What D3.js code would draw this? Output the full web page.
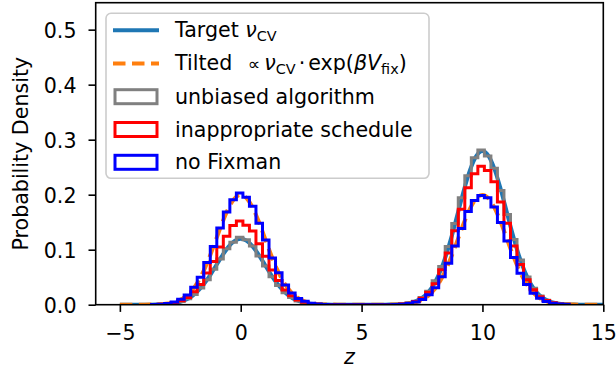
<!DOCTYPE html>
<html>
<head>
<meta charset="utf-8">
<script src="https://cdn.jsdelivr.net/npm/d3@7"></script>
<style>
  body { margin: 0; background: #fff; }
  svg { display: block; font-family: "DejaVu Sans", sans-serif; }
</style>
</head>
<body>
<svg id="chart" width="616" height="375"></svg>
<script>
// smooth curves, sampled every 0.25 from z = -5 to 15
const curveStart = -5;
const curveStep = 0.25;
const targetCurve = [
  0, 0, 0, 0, 0, 0.0001, 0.0003, 0.0006, 0.0013, 0.0027, 0.0053, 0.0095, 0.0162, 0.0259, 0.0389, 0.0548,
  0.0726, 0.0903, 0.1056, 0.1160, 0.1197, 0.1160, 0.1056, 0.0903, 0.0726, 0.0548, 0.0389, 0.0259, 0.0162,
  0.0095, 0.0053, 0.0027, 0.0013, 0.0006, 0.0003, 0.0001, 0, 0, 0, 0, 0, 0, 0, 0,
  0.0001, 0.0003, 0.0006, 0.0014, 0.0031, 0.0064, 0.0123, 0.0222, 0.0378, 0.0604, 0.0907, 0.1278, 0.1694,
  0.2108, 0.2465, 0.2707, 0.2792, 0.2707, 0.2465, 0.2108, 0.1694, 0.1278, 0.0907, 0.0604, 0.0378, 0.0222,
  0.0123, 0.0064, 0.0031, 0.0014, 0.0006, 0.0003, 0.0001, 0, 0, 0, 0
];
const tiltedCurve = [
  0, 0, 0, 0, 0.0001, 0.0002, 0.0004, 0.0010, 0.0022, 0.0045, 0.0088, 0.0159, 0.0270, 0.0431, 0.0648, 0.0913,
  0.1210, 0.1506, 0.1760, 0.1934, 0.1995, 0.1934, 0.1760, 0.1506, 0.1210, 0.0913, 0.0648, 0.0431, 0.0270,
  0.0159, 0.0088, 0.0045, 0.0022, 0.0010, 0.0004, 0.0002, 0.0001, 0, 0, 0, 0, 0, 0, 0,
  0.0001, 0.0002, 0.0004, 0.0010, 0.0022, 0.0045, 0.0088, 0.0159, 0.0270, 0.0431, 0.0648, 0.0913, 0.1210,
  0.1506, 0.1760, 0.1934, 0.1995, 0.1934, 0.1760, 0.1506, 0.1210, 0.0913, 0.0648, 0.0431, 0.0270, 0.0159,
  0.0088, 0.0045, 0.0022, 0.0010, 0.0004, 0.0002, 0.0001, 0, 0, 0, 0
];

// histograms: bins of width 0.27 starting at z = -3.69
const binStart = -3.69;
const binWidth = 0.27;
const gapZeros = [0, 0, 0, 0, 0, 0, 0, 0, 0, 0];
const unbiasedHist = [
  0.0002, 0.0005, 0.0014, 0.0030, 0.0057, 0.0110, 0.0186, 0.0305, 0.0452, 0.0645, 0.0830, 0.1015, 0.1135,
  0.1225, 0.1180, 0.1065, 0.0885, 0.0705, 0.0510, 0.0350, 0.0218, 0.0130, 0.0069, 0.0036, 0.0016, 0.0007, 0.0003,
  ...gapZeros,
  0.0005, 0.0014, 0.0031, 0.0063, 0.0133, 0.0243, 0.0435, 0.0695, 0.1060, 0.1478, 0.1945, 0.2345, 0.2670,
  0.2810, 0.2705, 0.2480, 0.2075, 0.1640, 0.1185, 0.0812, 0.0505, 0.0300, 0.0160, 0.0083, 0.0038, 0.0017, 0.0007
];
const scheduleHist = [
  0.0003, 0.0008, 0.0017, 0.0036, 0.0072, 0.0130, 0.0236, 0.0368, 0.0575, 0.0785, 0.1050, 0.1245, 0.1440,
  0.1520, 0.1445, 0.1340, 0.1110, 0.0880, 0.0632, 0.0440, 0.0268, 0.0163, 0.0085, 0.0045, 0.0020, 0.0009, 0.0004,
  ...gapZeros,
  0.0004, 0.0012, 0.0025, 0.0060, 0.0115, 0.0226, 0.0382, 0.0635, 0.0940, 0.1345, 0.1735, 0.2125, 0.2380,
  0.2515, 0.2440, 0.2235, 0.1865, 0.1480, 0.1065, 0.0730, 0.0452, 0.0272, 0.0143, 0.0076, 0.0034, 0.0015, 0.0006
];
const noFixmanHist = [
  0.0004, 0.0010, 0.0023, 0.0047, 0.0100, 0.0178, 0.0318, 0.0500, 0.0765, 0.1060, 0.1395, 0.1685, 0.1910,
  0.2030, 0.1955, 0.1790, 0.1480, 0.1175, 0.0850, 0.0580, 0.0360, 0.0213, 0.0113, 0.0061, 0.0026, 0.0012, 0.0005,
  ...gapZeros,
  0.0005, 0.0009, 0.0022, 0.0049, 0.0095, 0.0182, 0.0310, 0.0508, 0.0752, 0.1068, 0.1385, 0.1695, 0.1895,
  0.1985, 0.1945, 0.1775, 0.1495, 0.1160, 0.0860, 0.0570, 0.0368, 0.0208, 0.0118, 0.0058, 0.0028, 0.0011, 0.0005
];

const xTicks = [-5, 0, 5, 10, 15];
const yTicks = [0, 0.1, 0.2, 0.3, 0.4, 0.5];

const svg = d3.select("#chart");
const fontSize = 20.6;
const plot = { left: 95.7, right: 603.3, top: 2.7, bottom: 304.7 };

const x = d3.scaleLinear().domain([-6, 15]).range([plot.left, plot.right]);
const y = d3.scaleLinear().domain([0, 0.549]).range([plot.bottom, plot.top]);

const clip = svg.append("clipPath").attr("id", "clip")
  .append("rect")
  .attr("x", plot.left).attr("y", plot.top)
  .attr("width", plot.right - plot.left).attr("height", plot.bottom - plot.top);

const chart = svg.append("g").attr("clip-path", "url(#clip)");

const line = d3.line()
  .x((d, i) => x(curveStart + i * curveStep))
  .y((d) => y(d))
  .curve(d3.curveMonotoneX);

chart.append("path")
  .attr("d", line(targetCurve))
  .attr("fill", "none")
  .attr("stroke", "#1f77b4")
  .attr("stroke-width", 4);

chart.append("path")
  .attr("d", line(tiltedCurve))
  .attr("fill", "none")
  .attr("stroke", "#ff7f0e")
  .attr("stroke-width", 4)
  .attr("stroke-dasharray", "12.5,6.5");

function stepPath(values) {
  const pts = [[binStart, 0]];
  values.forEach((v, i) => {
    pts.push([binStart + i * binWidth, v]);
    pts.push([binStart + (i + 1) * binWidth, v]);
  });
  pts.push([binStart + values.length * binWidth, 0]);
  return d3.line().x((p) => x(p[0])).y((p) => y(p[1]))(pts);
}

const hists = [
  { values: unbiasedHist, color: "#808080" },
  { values: scheduleHist, color: "#ff0000" },
  { values: noFixmanHist, color: "#0000ff" }
];

hists.forEach((h) => {
  chart.append("path")
    .attr("d", stepPath(h.values))
    .attr("fill", "none")
    .attr("stroke", h.color)
    .attr("stroke-width", 3)
    .attr("stroke-linejoin", "miter");
});

// axes
const xAxis = svg.append("g")
  .attr("transform", `translate(0, ${plot.bottom})`)
  .call(d3.axisBottom(x).tickValues(xTicks).tickSize(7.2));
xAxis.select(".domain").remove();
xAxis.selectAll("line").attr("stroke-width", 1.6);
xAxis.selectAll("text")
  .attr("y", 35.3).attr("dy", null)
  .attr("font-size", fontSize).attr("font-family", "DejaVu Sans").attr("fill", "#000");

const yAxis = svg.append("g")
  .attr("transform", `translate(${plot.left}, 0)`)
  .call(d3.axisLeft(y).tickValues(yTicks).tickSize(7.2).tickFormat(d3.format(".1f")));
yAxis.select(".domain").remove();
yAxis.selectAll("line").attr("stroke-width", 1.6);
yAxis.selectAll("text")
  .attr("x", -19.2).attr("dy", "0.36em")
  .attr("font-size", fontSize).attr("font-family", "DejaVu Sans").attr("fill", "#000");

svg.append("rect")
  .attr("x", plot.left).attr("y", plot.top)
  .attr("width", plot.right - plot.left).attr("height", plot.bottom - plot.top)
  .attr("fill", "none").attr("stroke", "#000").attr("stroke-width", 1.6);

svg.append("text")
  .attr("transform", `translate(28, ${(plot.top + plot.bottom) / 2}) rotate(-90)`)
  .attr("text-anchor", "middle")
  .attr("font-size", fontSize)
  .text("Probability Density");

svg.append("text")
  .attr("x", (plot.left + plot.right) / 2)
  .attr("y", 363.5)
  .attr("text-anchor", "middle")
  .attr("font-size", fontSize)
  .attr("font-style", "italic")
  .text("z");

// legend
const legend = svg.append("g").attr("font-size", fontSize);
legend.append("rect")
  .attr("x", 106).attr("y", 13.3)
  .attr("width", 323).attr("height", 165)
  .attr("rx", 5)
  .attr("fill", "#fff").attr("fill-opacity", 0.8)
  .attr("stroke", "#cccccc").attr("stroke-width", 1.6);

const rowY = [30.3, 63.5, 96.7, 129.5, 162.3];

legend.append("line")
  .attr("x1", 113).attr("x2", 159).attr("y1", rowY[0]).attr("y2", rowY[0])
  .attr("stroke", "#1f77b4").attr("stroke-width", 4);
legend.append("line")
  .attr("x1", 113).attr("x2", 159).attr("y1", rowY[1]).attr("y2", rowY[1])
  .attr("stroke", "#ff7f0e").attr("stroke-width", 4)
  .attr("stroke-dasharray", "12.5,6.5");

hists.forEach((h, i) => {
  legend.append("rect")
    .attr("x", 115).attr("y", rowY[i + 2] - 7)
    .attr("width", 42).attr("height", 14)
    .attr("fill", "none").attr("stroke", h.color).attr("stroke-width", 3);
});

const subSize = fontSize * 0.7;

const t0 = legend.append("text").attr("x", 175).attr("y", rowY[0] + 6.5);
t0.append("tspan").text("Target ");
t0.append("tspan").attr("font-style", "italic").text("ν");
t0.append("tspan").attr("font-size", subSize).attr("dy", 4).text("CV");

const t1 = legend.append("text").attr("x", 175).attr("y", rowY[1] + 6.5);
t1.append("tspan").text("Tilted ");
t1.append("tspan").attr("dx", 9).attr("font-size", fontSize * 0.85).text("∝");
t1.append("tspan").attr("dx", 4).attr("font-style", "italic").text("ν");
t1.append("tspan").attr("font-size", subSize).attr("dy", 4).text("CV");
t1.append("tspan").attr("dy", -4).attr("dx", 3).text("·");
t1.append("tspan").attr("dx", 3).text("exp(");
t1.append("tspan").attr("font-style", "italic").text("βV");
t1.append("tspan").attr("font-size", subSize).attr("dy", 4).text("fix");
t1.append("tspan").attr("dy", -4).text(")");

["unbiased algorithm", "inappropriate schedule", "no Fixman"].forEach((label, i) => {
  legend.append("text")
    .attr("x", 175).attr("y", rowY[i + 2] + 7)
    .text(label);
});
</script>
</body>
</html>
